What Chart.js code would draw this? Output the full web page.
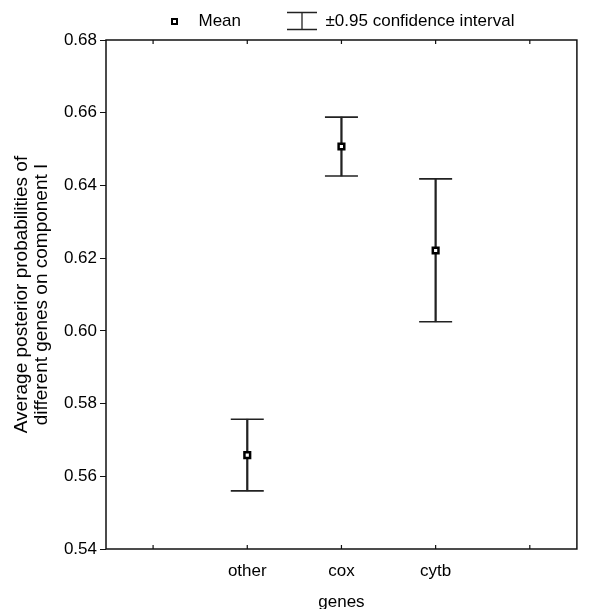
<!DOCTYPE html>
<html>
<head>
<meta charset="utf-8">
<script src="https://cdn.jsdelivr.net/npm/chart.js@4.4.1/dist/chart.umd.min.js"></script>
<style>
  html, body { margin: 0; padding: 0; background: #fff; overflow: hidden; }
  #wrap { position: relative; width: 595px; height: 625px; }
  #legend { position: absolute; top: 11px; left: 159px; height: 20px; display: flex; align-items: center;
            font: 17px "Liberation Sans", Arial, sans-serif; color: #000; }
  .box { width: 31px; height: 20px; display: flex; align-items: center; justify-content: center; }
  .txt { margin-left: 8.5px; line-height: 20px; white-space: nowrap; }
  .gap { width: 45px; }
  .mark { box-sizing: border-box; width: 7px; height: 7px; border: 2px solid #000; background: #fff; }
</style>
</head>
<body>
<div id="wrap">
  <div id="legend"></div>
  <canvas id="genesChart"></canvas>
</div>
<script>
// data
const genes = ['', 'other', 'cox', 'cytb', ''];
const meanValues = [null, 0.5658, 0.6507, 0.6221, null];
const ciLow = [null, 0.5560, 0.6426, 0.6025, null];
const ciHigh = [null, 0.5757, 0.6588, 0.6418, null];
const yTicks = [0.54, 0.56, 0.58, 0.60, 0.62, 0.64, 0.66, 0.68];

Chart.defaults.font.family = '"Liberation Sans", Arial, sans-serif';
Chart.defaults.font.size = 17;
Chart.defaults.color = '#000';

// box round the plot + little inward ticks on top and bottom
const frameTicks = {
  id: 'frameTicks',
  beforeDatasetsDraw(chart) {
    const {ctx, chartArea: a, scales: {x}} = chart;
    ctx.save();
    ctx.strokeStyle = '#111';
    ctx.lineWidth = 1.5;
    ctx.strokeRect(a.left, a.top, a.right - a.left, a.bottom - a.top);
    ctx.lineWidth = 1.2;
    x.ticks.forEach((t, i) => {
      const px = x.getPixelForTick(i);
      ctx.beginPath();
      ctx.moveTo(px, a.bottom);
      ctx.lineTo(px, a.bottom - 4);
      ctx.moveTo(px, a.top);
      ctx.lineTo(px, a.top + 4);
      ctx.stroke();
    });
    ctx.restore();
  }
};

// legend as html, built from the datasets
const htmlLegend = {
  id: 'htmlLegend',
  afterUpdate(chart) {
    const box = document.getElementById('legend');
    box.innerHTML = '';
    const items = chart.data.datasets.filter(d => d.inLegend);
    items.forEach((d, i) => {
      if (i > 0) {
        const g = document.createElement('div');
        g.className = 'gap';
        box.appendChild(g);
      }
      const icon = document.createElement('div');
      icon.className = 'box';
      if (d.type === 'bar') {
        icon.innerHTML = '<svg width="30" height="20" viewBox="0 0 30 20">' +
          '<path d="M0 1.5H30M0 18.5H30M15 1.5V18.5" stroke="#222" stroke-width="1.3" fill="none"/></svg>';
      } else {
        icon.innerHTML = '<div class="mark"></div>';
      }
      const txt = document.createElement('div');
      txt.className = 'txt';
      txt.textContent = d.label;
      box.appendChild(icon);
      box.appendChild(txt);
    });
  }
};

const ctx = document.getElementById('genesChart');

new Chart(ctx, {
  type: 'bar',
  data: {
    labels: genes,
    datasets: [
      {
        type: 'line',
        label: 'Mean',
        inLegend: true,
        data: meanValues,
        showLine: false,
        pointStyle: 'rect',
        pointRadius: 4,
        pointHoverRadius: 4,
        pointBorderWidth: 2.5,
        pointBackgroundColor: '#fff',
        pointBorderColor: '#000',
        order: 0
      },
      {
        type: 'line',
        label: 'upper',
        data: ciHigh,
        showLine: false,
        pointStyle: 'line',
        pointRadius: 16.5,
        pointHoverRadius: 16.5,
        pointBorderWidth: 1.6,
        pointBorderColor: '#222',
        order: 1
      },
      {
        type: 'line',
        label: 'lower',
        data: ciLow,
        showLine: false,
        pointStyle: 'line',
        pointRadius: 16.5,
        pointHoverRadius: 16.5,
        pointBorderWidth: 1.6,
        pointBorderColor: '#222',
        order: 1
      },
      {
        type: 'bar',
        label: '±0.95 confidence interval',
        inLegend: true,
        data: genes.map((g, i) => ciLow[i] == null ? null : [ciLow[i], ciHigh[i]]),
        backgroundColor: '#222',
        borderWidth: 0,
        barThickness: 1.6,
        order: 2
      }
    ]
  },
  options: {
    responsive: true,
    maintainAspectRatio: false,
    animation: false,
    events: [],
    layout: { padding: { top: 40, right: 1, left: 0, bottom: 0 } },
    plugins: {
      legend: { display: false },
      tooltip: { enabled: false }
    },
    scales: {
      x: {
        type: 'category',
        offset: true,
        grid: { display: false, drawTicks: false },
        border: { display: false },
        ticks: { padding: 12, color: '#000' },
        title: { display: true, text: 'genes', padding: { top: 0, bottom: 12 } },
        afterFit: s => { s.height = 76; }
      },
      y: {
        min: 0.54,
        max: 0.68,
        afterBuildTicks: s => { s.ticks = yTicks.map(v => ({ value: v })); },
        ticks: { padding: 3, color: '#000', callback: v => v.toFixed(2) },
        grid: { drawOnChartArea: false, drawTicks: true, tickLength: 6, color: '#111', lineWidth: 1 },
        border: { display: false },
        title: {
          display: true,
          text: ['Average posterior probabilities of', 'different genes on component I'],
          font: { size: 19, lineHeight: 1.05 },
          padding: { top: 12, bottom: 0 }
        },
        afterFit: s => { s.width = 106; }
      }
    }
  },
  plugins: [frameTicks, htmlLegend]
});
</script>
</body>
</html>
